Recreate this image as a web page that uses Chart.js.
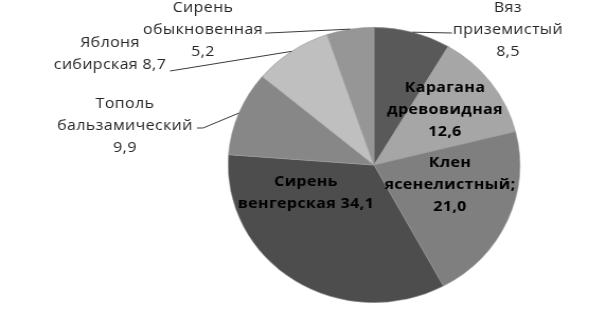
<!DOCTYPE html>
<html>
<head>
<meta charset="utf-8">
<script src="https://cdn.jsdelivr.net/npm/chart.js@4/dist/chart.umd.min.js"></script>
<style>
  html, body { margin: 0; background: #fff; overflow: hidden; }
  /* the original picture is stretched a little sideways, so the pie is an ellipse */
  #wrap { width: 572px; height: 312px; transform: scaleX(1.0594); transform-origin: 0 0; }
</style>
</head>
<body>
<div id="wrap"><canvas id="pie"></canvas></div>
<script>
// DATA
const species = ["Вяз приземистый", "Карагана древовидная", "Клен ясенелистный",
  "Сирень венгерская", "Тополь бальзамический", "Яблоня сибирская", "Сирень обыкновенная"];
const shares = [8.5, 12.6, 21.0, 34.1, 9.9, 8.7, 5.2];
// how each label is broken into lines; the value is added after the last line or on its own
const nameLines = [
  ["Вяз", "приземистый"],
  ["Карагана", "древовидная"],
  ["Клен", "ясенелистный;"],
  ["Сирень", "венгерская"],
  ["Тополь", "бальзамический"],
  ["Яблоня", "сибирская"],
  ["Сирень", "обыкновенная"]
];
const valueSameLine = [false, false, false, true, false, true, false];

// STYLE / LAYOUT (label positions in screen pixels)
const STRETCH = 606 / 572;
const shades = ["#595959", "#a6a6a6", "#7f7f7f", "#4d4d4d", "#878787", "#bfbfbf", "#969696"];
const labelLayout = [
  { x: 508, y: 8,   bold: false, lead: [[452, 33]] },
  { x: 445, y: 88,  bold: true },
  { x: 450, y: 163, bold: true },
  { x: 306, y: 182, bold: true },
  { x: 125, y: 104, bold: false, lead: [[197, 128], [203, 128]] },
  { x: 110, y: 43,  bold: false, lead: [[170, 71]] },
  { x: 203, y: 8,   bold: false, lead: [[265, 33], [268, 33]] }
];
const lineGap = 22;

const fmt = v => v.toFixed(1).replace(".", ",");

const pieLabels = {
  id: "pieLabels",
  afterDatasetsDraw(chart) {
    const ctx = chart.ctx;
    const arcs = chart.getDatasetMeta(0).data;
    ctx.save();
    arcs.forEach((arc, i) => {
      const lay = labelLayout[i];
      // leader line to the slice edge
      if (lay.lead) {
        const mid = (arc.startAngle + arc.endAngle) / 2;
        const ex = arc.x + Math.cos(mid) * arc.outerRadius;
        const ey = arc.y + Math.sin(mid) * arc.outerRadius;
        ctx.beginPath();
        ctx.strokeStyle = "#3a3a3a";
        ctx.lineWidth = 1;
        ctx.moveTo(lay.lead[0][0] / STRETCH, lay.lead[0][1]);
        lay.lead.slice(1).forEach(p => ctx.lineTo(p[0] / STRETCH, p[1]));
        ctx.lineTo(ex, ey);
        ctx.stroke();
      }
      const lines = nameLines[i].slice();
      const val = fmt(shares[i]);
      if (valueSameLine[i]) lines[lines.length - 1] += " " + val;
      else lines.push(val);
      ctx.font = (lay.bold ? "bold " : "") + "15px 'Open Sans'";
      ctx.letterSpacing = "0.4px";
      ctx.fillStyle = lay.bold ? "#000" : "#262626";
      ctx.textAlign = "center";
      ctx.textBaseline = "middle";
      lines.forEach((t, k) => ctx.fillText(t, lay.x / STRETCH, lay.y + k * lineGap));
    });
    ctx.restore();
  }
};

new Chart(document.getElementById("pie"), {
  type: "pie",
  data: {
    labels: species,
    datasets: [{
      data: shares,
      backgroundColor: shades,
      borderColor: "#9a9a9a",
      borderWidth: 0.6
    }]
  },
  options: {
    responsive: true,
    maintainAspectRatio: false,
    animation: false,
    layout: { padding: { left: 215, right: 81, top: 27, bottom: 9 } },
    plugins: { legend: { display: false }, tooltip: { enabled: false } }
  },
  plugins: [pieLabels]
});
</script>
</body>
</html>
